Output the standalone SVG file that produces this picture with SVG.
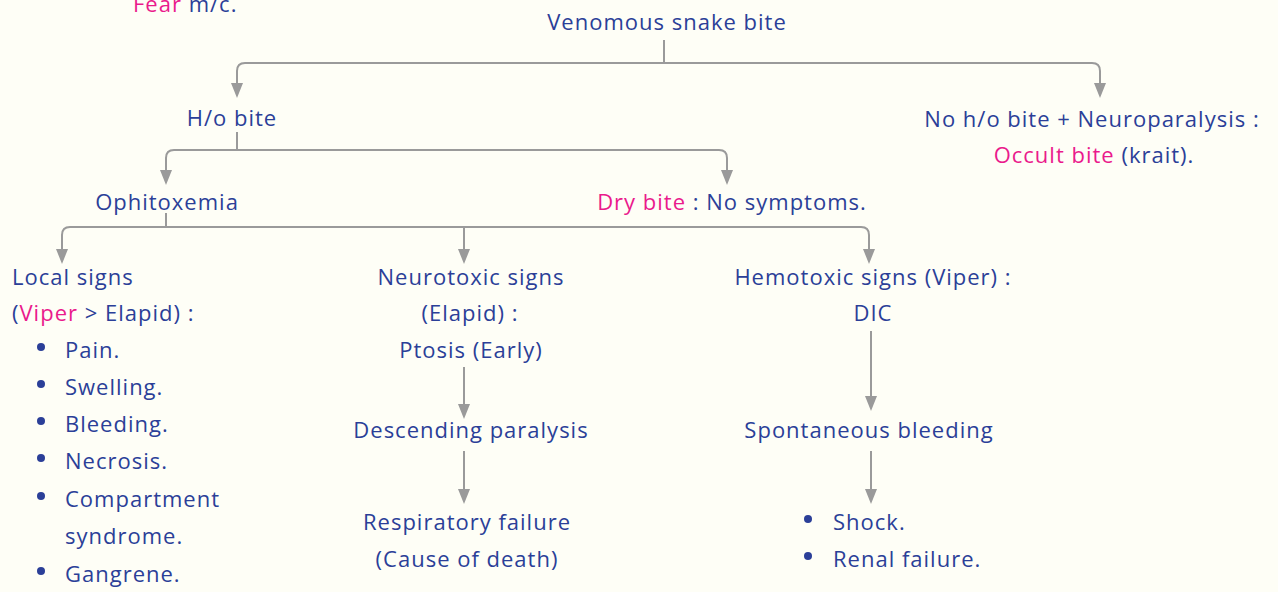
<svg xmlns="http://www.w3.org/2000/svg" width="1278" height="592" viewBox="0 0 1278 592">
<defs>
<style>
text{font-family:"Open Sans","Liberation Sans",sans-serif;font-size:22px;letter-spacing:1px;fill:#2b3f98}
.p{fill:#ea1a8c}
.c{text-anchor:middle}
.ln{fill:none;stroke:#9a9a9a;stroke-width:2}
.dot{fill:#2b3f98}
.ah{fill:#9a9a9a}
</style>
</defs>
<rect width="1278" height="592" fill="#fefef6"/>
<g id="connectors">
<path class="ln" d="M664,40 V63"/>
<path class="ln" d="M664,63 H245 Q237,63 237,71 V90"/>
<path class="ln" d="M664,63 H1092 Q1100,63 1100,71 V90"/>
<path class="ln" d="M237,132 V150"/>
<path class="ln" d="M237,150 H174 Q166,150 166,158 V177"/>
<path class="ln" d="M237,150 H719 Q727,150 727,158 V177"/>
<path class="ln" d="M166,213 V227"/>
<path class="ln" d="M166,227 H70 Q62,227 62,235 V256"/>
<path class="ln" d="M166,227 H861 Q869,227 869,235 V256"/>
<path class="ln" d="M464,227 V256"/>
<path class="ln" d="M464,367 V411"/>
<path class="ln" d="M464,451 V496"/>
<path class="ln" d="M871,331 V403"/>
<path class="ln" d="M871,451 V496"/>
<path class="ah" d="M231,83 H243 L237,98 Z"/>
<path class="ah" d="M1094,83 H1106 L1100,98 Z"/>
<path class="ah" d="M160,170 H172 L166,185 Z"/>
<path class="ah" d="M721,170 H733 L727,185 Z"/>
<path class="ah" d="M56,249 H68 L62,264 Z"/>
<path class="ah" d="M458,249 H470 L464,264 Z"/>
<path class="ah" d="M863,249 H875 L869,264 Z"/>
<path class="ah" d="M458,404 H470 L464,419 Z"/>
<path class="ah" d="M458,489 H470 L464,504 Z"/>
<path class="ah" d="M865,396 H877 L871,411 Z"/>
<path class="ah" d="M865,489 H877 L871,504 Z"/>
</g>
<g id="fear"><text x="133" y="12"><tspan class="p">Fear</tspan> m/c.</text></g>
<g id="root"><text class="c" x="667" y="30">Venomous snake bite</text></g>
<g id="ho-bite"><text class="c" x="232" y="126">H/o bite</text></g>
<g id="occult"><text class="c" x="1092" y="127">No h/o bite + Neuroparalysis :</text><text class="c" x="1094" y="163"><tspan class="p">Occult bite</tspan> (krait).</text></g>
<g id="ophitoxemia"><text class="c" x="167" y="210">Ophitoxemia</text></g>
<g id="dry-bite"><text class="c" x="732" y="210"><tspan class="p">Dry bite</tspan> : No symptoms.</text></g>
<g id="local">
<text x="12" y="285">Local signs</text>
<text x="12" y="321">(<tspan class="p">Viper</tspan> &gt; Elapid) :</text>
<circle class="dot" cx="41" cy="347" r="4"/><text x="65" y="358">Pain.</text>
<circle class="dot" cx="41" cy="384" r="4"/><text x="65" y="395">Swelling.</text>
<circle class="dot" cx="41" cy="421" r="4"/><text x="65" y="432">Bleeding.</text>
<circle class="dot" cx="41" cy="458" r="4"/><text x="65" y="469">Necrosis.</text>
<circle class="dot" cx="41" cy="496" r="4"/><text x="65" y="507">Compartment</text>
<text x="65" y="544">syndrome.</text>
<circle class="dot" cx="41" cy="571" r="4"/><text x="65" y="582">Gangrene.</text>
</g>
<g id="neuro">
<text class="c" x="471" y="285">Neurotoxic signs</text>
<text class="c" x="470" y="321">(Elapid) :</text>
<text class="c" x="471" y="358">Ptosis (Early)</text>
</g>
<g id="descending"><text class="c" x="471" y="438">Descending paralysis</text></g>
<g id="resp"><text class="c" x="467" y="530">Respiratory failure</text><text class="c" x="467" y="567">(Cause of death)</text></g>
<g id="hemo"><text class="c" x="873" y="285">Hemotoxic signs (Viper) :</text><text class="c" x="873" y="321">DIC</text></g>
<g id="spont"><text class="c" x="869" y="438">Spontaneous bleeding</text></g>
<g id="shock">
<circle class="dot" cx="808" cy="519" r="4"/><text x="833" y="530">Shock.</text>
<circle class="dot" cx="808" cy="556" r="4"/><text x="833" y="567">Renal failure.</text>
</g>
</svg>
